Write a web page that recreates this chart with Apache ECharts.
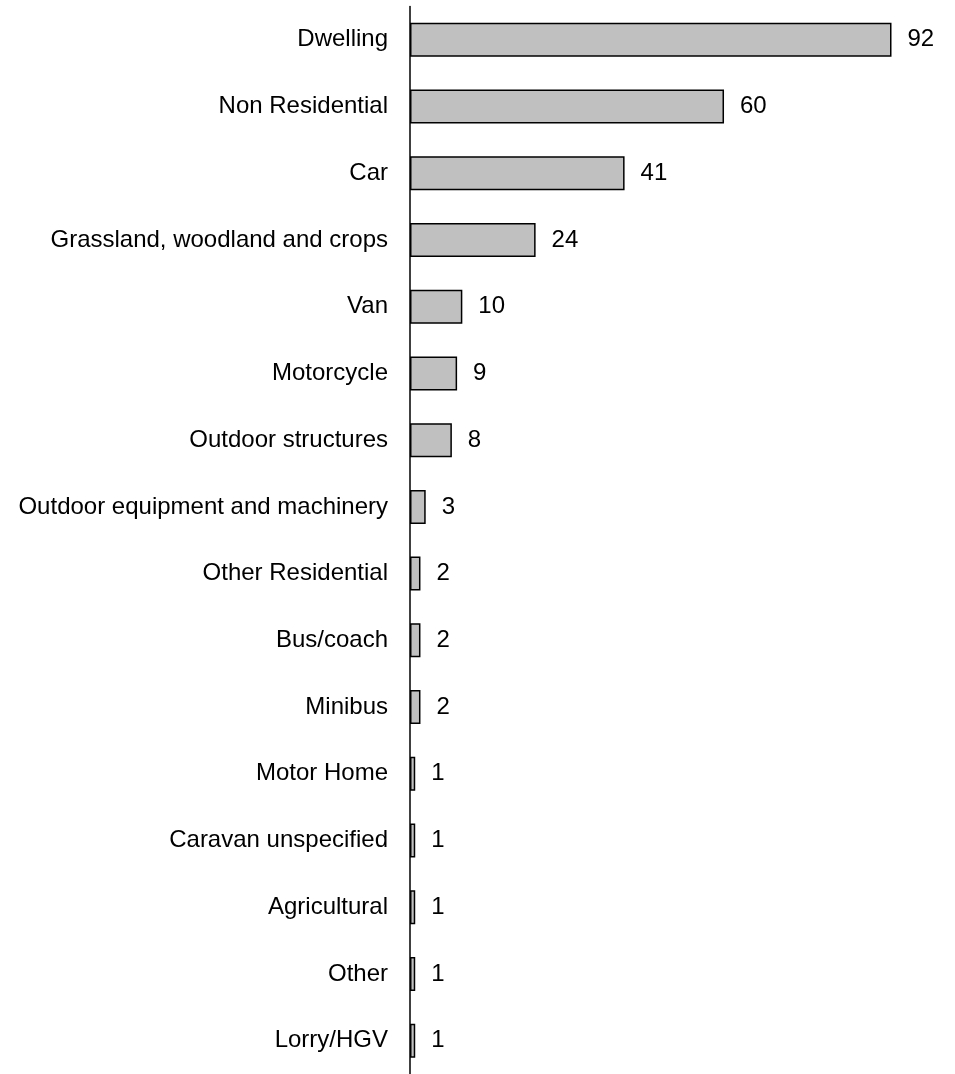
<!DOCTYPE html>
<html>
<head>
<meta charset="utf-8">
<script src="https://cdn.jsdelivr.net/npm/echarts@6/dist/echarts.min.js"></script>
<style>
html,body{margin:0;padding:0;background:#fff;}
#chart{width:955px;height:1074px;}
</style>
</head>
<body>
<div id="chart"></div>
<script>
const categories = ["Dwelling","Non Residential","Car","Grassland, woodland and crops","Van","Motorcycle","Outdoor structures","Outdoor equipment and machinery","Other Residential","Bus/coach","Minibus","Motor Home","Caravan unspecified","Agricultural","Other","Lorry/HGV"];
const values = [92,60,41,24,10,9,8,3,2,2,2,1,1,1,1,1];

const chart = echarts.init(document.getElementById('chart'), null, {renderer:'canvas'});
chart.setOption({
  animation:false,
  backgroundColor:'#ffffff',
  grid:{left:410, top:6.5, width:481.5, height:1072, containLabel:false},
  xAxis:{type:'value', min:0, max:92, show:false},
  yAxis:{
    type:'category', data:categories, inverse:true,
    axisLine:{show:true, lineStyle:{color:'#000', width:1.5}},
    axisTick:{show:false},
    splitLine:{show:false},
    axisLabel:{color:'#000', fontFamily:'Liberation Sans, Arial, sans-serif', fontSize:24, margin:22}
  },
  series:[{
    type:'bar', data:values, barWidth:34,
    itemStyle:{color:'#c0c0c0', borderColor:'#000', borderWidth:1.5},
    label:{show:true, position:'right', distance:16, color:'#000', fontFamily:'Liberation Sans, Arial, sans-serif', fontSize:24}
  }]
});
</script>
</body>
</html>
